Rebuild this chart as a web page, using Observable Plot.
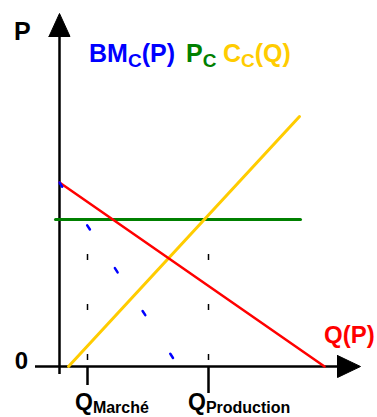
<!DOCTYPE html>
<html>
<head>
<meta charset="utf-8">
<script src="https://cdn.jsdelivr.net/npm/d3@7"></script>
<script src="https://cdn.jsdelivr.net/npm/@observablehq/plot@0.6"></script>
<style>
  html, body { margin: 0; padding: 0; background: #fff; }
  svg { display: block; }
</style>
</head>
<body>
<div id="chart"></div>
<script>
// Schematic values (1 unit ≈ 10 px in the reference)
const demand = [{q: 0, p: 18.4}, {q: 26.5, p: 0}];              // Q(P)
const marginalRevenue = [{q: 0, p: 18.4}, {q: 11.9, p: 0}];     // BM_C(P)
const supply = [{q: 0.9, p: 0}, {q: 24.0, p: 25.0}];            // C_C(Q)
const marketPrice = [{q: -0.4, p: 14.7}, {q: 24.1, p: 14.7}];   // P_C
const priceLevel = 14.7;
const quantityNames = ["Marché", "Production"];
const quantityValues = [2.8, 14.9];
const axisLabels = ["P", "0"];

const quantities = quantityNames.map((name, i) => ({name, q: quantityValues[i]}));

const blue = "#0000ff", green = "#008000", gold = "#ffcc00", red = "#ff0000";
const font = "'Liberation Sans', Arial, sans-serif";

const tickLen = {"Marché": 1.9, "Production": 2.7};

const plot = Plot.plot({
  width: 377,
  height: 417,
  marginTop: 0, marginRight: 0, marginBottom: 0, marginLeft: 0,
  x: {domain: [-5.9, 31.8], axis: null},
  y: {domain: [-5.1, 36.6], axis: null},
  style: {background: "#fff", fontFamily: font},
  marks: [
    // axes
    Plot.ruleX([0], {y1: -0.8, y2: 33.1, stroke: "black", strokeWidth: 2.5}),
    Plot.ruleY([0], {x1: -2.4, x2: 27.9, stroke: "black", strokeWidth: 2.5}),
    Plot.line([{q: -1.05, p: 33.0}, {q: 0, p: 35.3}, {q: 1.05, p: 33.0}, {q: -1.05, p: 33.0}],
      {x: "q", y: "p", fill: "black", stroke: "black", strokeWidth: 1}),
    Plot.line([{q: 27.8, p: 1.1}, {q: 30.1, p: 0}, {q: 27.8, p: -1.1}, {q: 27.8, p: 1.1}],
      {x: "q", y: "p", fill: "black", stroke: "black", strokeWidth: 1}),
    // quantity ticks and dashed guides
    Plot.ruleX(quantities, {x: "q", y1: priceLevel, y2: 0, stroke: "black", strokeWidth: 1.5,
      strokeDasharray: "6,44", strokeDashoffset: 15}),
    Plot.ruleX(quantities, {x: "q", y1: 0, y2: d => -tickLen[d.name], stroke: "black", strokeWidth: 2.5}),
    // curves
    Plot.line(marketPrice, {x: "q", y: "p", stroke: green, strokeWidth: 3}),
    Plot.line(supply, {x: "q", y: "p", stroke: gold, strokeWidth: 3}),
    Plot.line(demand, {x: "q", y: "p", stroke: red, strokeWidth: 2.5}),
    Plot.line(marginalRevenue, {x: "q", y: "p", stroke: blue, strokeWidth: 2.5,
      strokeDasharray: "5,46"})
  ]
});

document.getElementById("chart").appendChild(plot);

const sx = plot.scale("x"), sy = plot.scale("y");
const svg = d3.select(plot);

function label(q, p, parts, color, anchor = "start", size = 25, subSize = 19, shift = 5) {
  const t = svg.append("text")
    .attr("x", sx.apply(q)).attr("y", sy.apply(p))
    .attr("fill", color).attr("font-family", font).attr("font-weight", "bold")
    .attr("font-size", size).attr("text-anchor", anchor);
  let shifted = false;
  for (const [txt, sub] of parts) {
    const ts = t.append("tspan").text(txt);
    if (sub && !shifted) { ts.attr("font-size", subSize).attr("dy", shift); shifted = true; }
    else if (!sub && shifted) { ts.attr("dy", -shift); shifted = false; }
    else if (sub) ts.attr("font-size", subSize);
  }
}

label(-4.5, 32.6, [[axisLabels[0], false]], "black");
label(-3.1, -0.3, [[axisLabels[1], false]], "black", "end", 24);
label(3.0, 30.4, [["BM", false], ["C", true], ["(P)", false]], blue);
label(12.7, 30.4, [["P", false], ["C", true]], green);
label(16.4, 30.4, [["C", false], ["C", true], ["(Q)", false]], gold);
label(26.5, 2.3, [["Q(P)", false]], red, "start", 24);
label(quantities[0].q - 1.2, -4.4, [["Q", false], [quantities[0].name, true]], "black", "start", 23, 16, 3);
label(quantities[1].q - 2.0, -4.4, [["Q", false], [quantities[1].name, true]], "black", "start", 23, 16, 3);
</script>
</body>
</html>
